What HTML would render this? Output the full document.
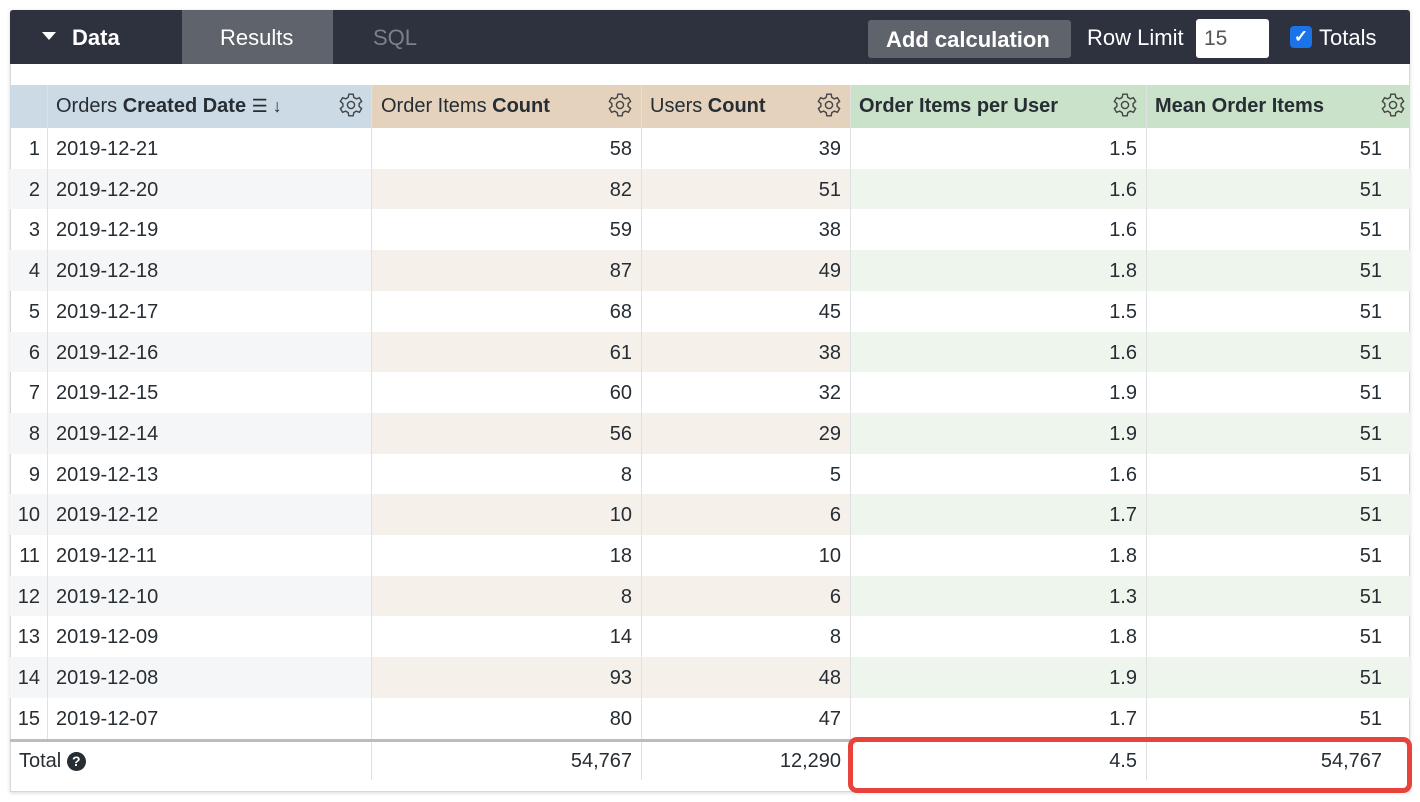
<!DOCTYPE html>
<html><head><meta charset="utf-8"><style>
*{box-sizing:border-box;margin:0;padding:0}
body{width:1420px;height:802px;background:#fff;font-family:"Liberation Sans",sans-serif;color:#262d33;position:relative;overflow:hidden}
.panel{position:absolute;left:10px;top:10px;width:1400px;height:782px;border:1px solid #d5d7da;box-shadow:0 1px 4px rgba(0,0,0,.15)}
.bar{position:absolute;left:10px;top:10px;width:1400px;height:54px;background:#2d323e;border-radius:3px 3px 0 0}
.res{position:absolute;left:182px;top:10px;width:151px;height:54px;background:#5f636b}
.btn{position:absolute;left:868px;top:20px;width:203px;height:38px;background:#5f636b;border-radius:3px}
.inp{position:absolute;left:1196px;top:19px;width:73px;height:39px;background:#fff;border-radius:3px;font-size:21px;color:#555;padding:8px 0 0 8px}
.cb{position:absolute;left:1290px;top:26px;width:22px;height:22px;background:#1a73e8;border-radius:4px;color:#fff;font-size:17px;text-align:center;line-height:22px;font-weight:bold}
.c{position:absolute;font-size:20px;white-space:nowrap}
.r{text-align:right}
.cell{position:absolute}
.vl{position:absolute;width:1px;background:#dfe1e4}
.gear{position:absolute;width:24px;height:24px}
</style></head><body>
<div class="panel"></div>
<div class="bar"></div>
<div class="res"></div>
<div class="btn"></div>
<div class="inp">15</div>
<div class="cb">✓</div>
<div style="position:absolute;left:42px;top:32px;width:0;height:0;border-left:7px solid transparent;border-right:7px solid transparent;border-top:8px solid #fff"></div>
<div class="c" style="left:72px;top:25px;color:#fff;font-size:22px;font-weight:bold">Data</div>
<div class="c" style="left:220px;top:25px;color:#fff;font-size:22px">Results</div>
<div class="c" style="left:373px;top:25px;color:#7b808a;font-size:22px">SQL</div>
<div class="c" style="left:886px;top:27px;color:#fff;font-size:22px;font-weight:bold">Add calculation</div>
<div class="c" style="left:1087px;top:25px;color:#fff;font-size:22px">Row Limit</div>
<div class="c" style="left:1319px;top:25px;color:#fff;font-size:22px">Totals</div>
<div id="t"></div>
<div style="position:absolute;left:848px;top:737px;width:564px;height:56px;border:5px solid #e8433a;border-radius:9px"></div>
<script>
var h='';
var cols=[[10,47],[47,371],[371,641],[641,850],[850,1146],[1146,1410]];
var hb=['#ccdae6','#ccdae6','#e4d2bd','#e4d2bd','#c9e2c9','#c9e2c9'];
var st=['#f5f6f8','#f5f6f8','#f6f0eb','#f6f0eb','#edf5ec','#edf5ec'];
for(var i=0;i<6;i++)h+='<div class="cell" style="left:'+cols[i][0]+'px;top:85px;width:'+(cols[i][1]-cols[i][0])+'px;height:43px;background:'+hb[i]+'"></div>';
var gear='<svg viewBox="0 0 24 24" width="26" height="26"><path d="M10 2h4l.6 3 2.3 1.3 2.9-1 2 3.4-2.3 2v2.6l2.3 2-2 3.4-2.9-1-2.3 1.3-.6 3h-4l-.6-3-2.3-1.3-2.9 1-2-3.4 2.3-2v-2.6l-2.3-2 2-3.4 2.9 1L9.4 5z" fill="none" stroke="#444" stroke-width="1.3"/><circle cx="12" cy="12" r="3.3" fill="none" stroke="#444" stroke-width="1.3"/></svg>';
[338,607,816,1112,1380].forEach(function(x){h+='<div class="gear" style="left:'+x+'px;top:92px">'+gear+'</div>'});
h+='<div class="c" style="left:56px;top:95px">Orders <b>Created Date</b> <span style="font-size:18px">☰ ↓</span></div>';
h+='<div class="c" style="left:381px;top:95px">Order Items <b>Count</b></div>';
h+='<div class="c" style="left:650px;top:95px">Users <b>Count</b></div>';
h+='<div class="c" style="left:859px;top:95px"><b>Order Items per User</b></div>';
h+='<div class="c" style="left:1155px;top:95px"><b>Mean Order Items</b></div>';
var d=[[58,39,1.5],[82,51,1.6],[59,38,1.6],[87,49,1.8],[68,45,1.5],[61,38,1.6],[60,32,1.9],[56,29,1.9],[8,5,1.6],[10,6,1.7],[18,10,1.8],[8,6,1.3],[14,8,1.8],[93,48,1.9],[80,47,1.7]];
for(var r=0;r<15;r++){
 var y=128+r*40.7;
 if(r%2==1)for(var i=0;i<6;i++)h+='<div class="cell" style="left:'+cols[i][0]+'px;top:'+y+'px;width:'+(cols[i][1]-cols[i][0])+'px;height:40.7px;background:'+st[i]+'"></div>';
 var ty=y+10, dd=21-r;
 h+='<div class="c r" style="left:10px;width:30px;top:'+ty+'px">'+(r+1)+'</div>';
 h+='<div class="c" style="left:56px;top:'+ty+'px">2019-12-'+(dd<10?'0'+dd:dd)+'</div>';
 h+='<div class="c r" style="left:371px;width:261px;top:'+ty+'px">'+d[r][0]+'</div>';
 h+='<div class="c r" style="left:641px;width:200px;top:'+ty+'px">'+d[r][1]+'</div>';
 h+='<div class="c r" style="left:850px;width:287px;top:'+ty+'px">'+d[r][2].toFixed(1)+'</div>';
 h+='<div class="c r" style="left:1146px;width:236px;top:'+ty+'px">51</div>';
}
[47,371,641,850,1146].forEach(function(x){h+='<div class="vl" style="left:'+x+'px;top:85px;height:'+(x==47?655:695)+'px"></div>'});
h+='<div style="position:absolute;left:10px;top:739px;width:1400px;height:3px;background:#b9bcc0"></div>';
h+='<div class="c" style="left:19px;top:750px">Total <span style="display:inline-block;width:19px;height:19px;border-radius:50%;background:#262d33;color:#fff;font-size:14px;font-weight:bold;text-align:center;line-height:19px;vertical-align:1px">?</span></div>';
h+='<div class="c r" style="left:371px;width:261px;top:750px">54,767</div>';
h+='<div class="c r" style="left:641px;width:200px;top:750px">12,290</div>';
h+='<div class="c r" style="left:850px;width:287px;top:750px">4.5</div>';
h+='<div class="c r" style="left:1146px;width:236px;top:750px">54,767</div>';
document.getElementById('t').innerHTML=h;
</script>
</body></html>
